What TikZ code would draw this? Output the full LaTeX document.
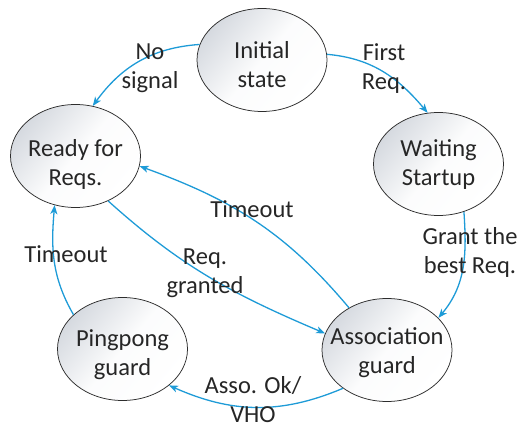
\documentclass[tikz,border=0pt]{standalone}
\usepackage{fontspec}
\setmainfont{Carlito}
\usetikzlibrary{arrows.meta,shapes.geometric}
\definecolor{flowblue}{RGB}{30,155,215}
\definecolor{statefill}{RGB}{214,218,224}
\definecolor{inkgray}{RGB}{38,38,38}
\definecolor{rimgray}{RGB}{45,45,45}
\begin{document}
\begin{tikzpicture}[x=1pt,y=1pt,
  state/.style={ellipse, draw=rimgray, line width=0.75pt,
    top color=statefill, bottom color=white, middle color=white!92!statefill,
    shading angle=50,
    minimum width=130pt, minimum height=103pt, inner sep=0pt},
  txt/.style={align=center, text=inkgray, inner sep=0pt,
    font=\fontsize{24.5}{29}\selectfont},
  flow/.style={draw=flowblue, line width=1.3pt,
    -{Stealth[length=9pt,width=7pt,inset=2.5pt]}}]
\useasboundingbox (0,0) rectangle (518,428);

% states
\node[state] (init)  at (262,368)   {};
\node[state] (ready) at (75.5,272)  {};
\node[state] (wait)  at (438.5,264) {};
\node[state] (assoc) at (387,78)    {};
\node[state] (ping)  at (122.5,79)  {};

\node[txt] (initT)  at ([yshift=-5pt]init.center)  {Initial\\state};
\node[txt] (readyT) at ([yshift=-8pt]ready.center) {Ready for\\Reqs.};
\node[txt] (waitT)  at ([yshift=-1pt]wait.center)  {Waiting\\Startup};
\node[txt] (assocT) at ([yshift=-3pt]assoc.center) {Association\\guard};
\node[txt] (pingT)  at ([yshift=-6pt]ping.center)  {Pingpong\\guard};

% transitions
\draw[flow] (init.166)  to[out=184,in=54]  (ready.71);
\draw[flow] (init.5)    to[out=-5,in=130]  (wait.102);
\draw[flow] (wait.-62)  to[out=-86,in=50]  (assoc.32);
\draw[flow] (assoc.132) to[out=130,in=-20] (ready.-9);
\draw[flow] (ready.-54) to[out=-42,in=157] (assoc.165);
\draw[flow] (assoc.221) to[out=203,in=-24] (ping.322);
\draw[flow] (ping.145)  to[out=120,in=265] (ready.247);

% transition labels
\node[txt] (lNo)    at (150,359.7) {No\\signal};
\node[txt] (lFirst) at (384,359)   {First\\Req.};
\node[txt] (lGrant) at (470,176)   {Grant the\\best Req.};
\node[txt] (lTo1)   at (252,219.3) {Timeout};
\node[txt] (lReq)   at (205,155)   {Req.\\granted};
\node[txt] (lAsso)  at (253,28.5)  {Asso. Ok/\\VHO};
\node[txt] (lTo2)   at (66,174.3)  {Timeout};
\end{tikzpicture}
\end{document}
